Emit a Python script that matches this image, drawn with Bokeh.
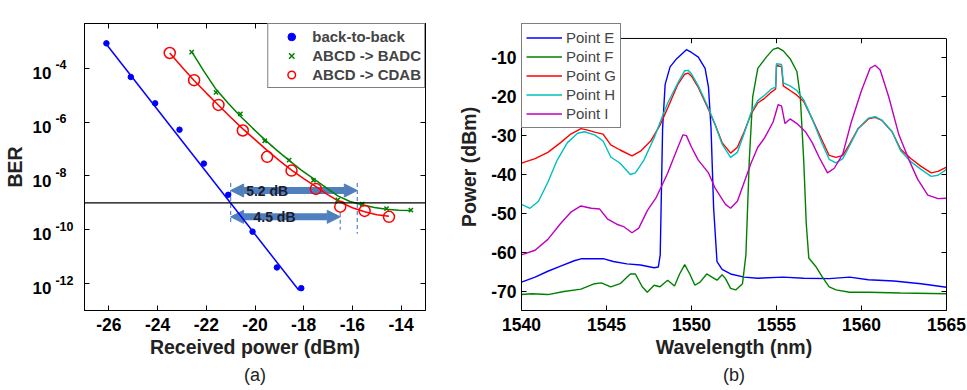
from bokeh.plotting import figure
from bokeh.models import (FixedTicker, LinearAxis, LogAxis, Span, CustomLabelingPolicy,
                          CustomJSTickFormatter, Range1d, LogScale, Title,
                          Arrow, NormalHead, Label, Legend, LegendItem)
from bokeh.layouts import row
from bokeh.embed import file_html
from bokeh.resources import INLINE

FONT = "Liberation Sans"

# ---------------- Panel (a): BER vs received power ----------------
b2b_power = [-26.1, -25.1, -24.1, -23.1, -22.1, -21.1, -20.1, -19.1, -18.1]
b2b_log_ber = [-3.07, -4.32, -5.30, -6.28, -7.54, -8.70, -10.07, -11.40, -12.17]

badc_power = [-22.6, -21.6, -20.6, -19.6, -18.6, -17.6, -16.6, -15.6, -14.6, -13.6]
badc_log_ber = [-3.40, -4.89, -5.69, -6.69, -7.41, -8.16, -8.89, -9.05, -9.21, -9.27]

cdab_power = [-23.5, -22.5, -21.5, -20.5, -19.5, -18.5, -17.5, -16.5, -15.5, -14.5]
cdab_log_ber = [-3.43, -4.44, -5.36, -6.31, -7.29, -7.80, -8.48, -9.14, -9.30, -9.52]

# fitted curves
b2b_fit_power = [-26.15, -18.2]
b2b_fit_log = [-3.05, -12.25]
badc_fit_power = [-22.6, -22.1, -21.6, -21.1, -20.6, -20.1, -19.6, -19.1, -18.6, -18.1,
                  -17.6, -17.1, -16.6, -16.1, -15.6, -15.1, -14.6, -14.1, -13.6]
badc_fit_log = [-3.38, -4.10, -4.78, -5.30, -5.78, -6.22, -6.65, -7.05, -7.42, -7.78,
                -8.10, -8.42, -8.74, -8.95, -9.07, -9.17, -9.24, -9.27, -9.28]
cdab_fit_power = [-23.5, -23.0, -22.5, -22.0, -21.5, -21.0, -20.5, -20.0, -19.5, -19.0,
                  -18.5, -18.0, -17.5, -17.0, -16.5, -16.0, -15.5, -15.0, -14.5]
cdab_fit_log = [-3.43, -3.95, -4.45, -4.92, -5.37, -5.82, -6.25, -6.65, -7.05, -7.43,
                -7.78, -8.10, -8.40, -8.70, -8.97, -9.18, -9.33, -9.44, -9.50]

ber_limit = 1e-9
x_ticks_a = [-26, -24, -22, -20, -18, -16, -14]
y_tick_exponents_a = [-12, -10, -8, -6, -4]

# ---------------- Panel (b): spectra ----------------
e_nm = [1540.0, 1540.8, 1541.55, 1542.3, 1543.1, 1543.5, 1544.85, 1545.4, 1546.2, 1547.0,
        1547.8, 1548.05, 1548.16, 1548.3, 1548.45, 1548.74, 1549.13, 1549.7, 1550.0, 1550.4,
        1550.8, 1551.0, 1551.15, 1551.3, 1551.5, 1551.8, 1552.3, 1553.1, 1553.9, 1555.4,
        1556.6, 1558.1, 1559.3, 1560.4, 1561.9, 1563.5, 1565.0]
e_db = [-67.7, -66.4, -64.9, -63.6, -62.2, -61.7, -61.7, -62.4, -63.0, -63.3,
        -64.0, -63.8, -60.7, -28.2, -16.8, -12.3, -10.2, -7.9, -8.6, -9.8,
        -12.7, -17.6, -28.2, -48.5, -62.4, -64.4, -65.6, -66.4, -66.7, -66.4,
        -66.7, -66.8, -66.4, -67.1, -67.4, -68.1, -69.0]

f_nm = [1540.0, 1540.6, 1541.55, 1542.5, 1543.5, 1544.3, 1544.7, 1545.25, 1545.8, 1546.4,
        1546.7, 1547.1, 1547.4, 1547.8, 1548.15, 1548.35, 1548.6, 1549.0, 1549.3, 1549.6,
        1549.9, 1550.2, 1550.5, 1550.9, 1551.2, 1551.5, 1551.8, 1552.0, 1552.3, 1552.6,
        1553.0, 1553.2, 1553.4, 1553.6, 1553.9, 1554.4, 1554.8, 1555.1, 1555.4, 1555.8,
        1556.2, 1556.4, 1556.6, 1556.75, 1556.9, 1557.3, 1557.7, 1558.1, 1558.5, 1559.3,
        1560.4, 1562.3, 1565.0]
f_db = [-70.9, -70.7, -70.9, -70.1, -69.5, -68.1, -67.9, -68.9, -68.1, -65.6,
        -65.6, -68.9, -70.3, -68.5, -68.9, -68.1, -67.2, -68.7, -65.6, -63.2,
        -65.6, -68.5, -67.7, -65.6, -66.4, -67.2, -65.8, -66.8, -69.3, -69.7,
        -68.1, -60.7, -36.3, -20.0, -12.7, -9.8, -7.8, -7.4, -8.2, -10.2,
        -13.5, -20.0, -36.3, -52.6, -61.5, -63.6, -66.4, -68.9, -69.7, -70.3,
        -70.3, -70.5, -70.7]

g_nm = [1540.0, 1540.8, 1541.55, 1542.3, 1542.9, 1543.5, 1543.9, 1544.3, 1544.8, 1545.25,
        1545.8, 1546.5, 1547.0, 1547.6, 1548.15, 1548.6, 1549.2, 1549.6, 1549.8, 1550.0,
        1550.4, 1551.0, 1551.4, 1551.8, 1552.3, 1552.7, 1553.1, 1553.5, 1553.9, 1554.3,
        1554.7, 1554.95, 1555.0, 1555.3, 1555.4, 1555.8, 1556.2, 1556.6, 1557.1, 1557.7,
        1558.1, 1558.5, 1558.9, 1559.3, 1559.8, 1560.4, 1560.8, 1561.2, 1561.8, 1562.3,
        1562.9, 1563.5, 1564.1, 1564.5, 1565.0]
g_db = [-37.1, -35.9, -34.3, -31.8, -29.6, -28.2, -28.6, -29.1, -29.6, -32.4,
        -33.7, -35.2, -34.0, -31.4, -27.3, -22.9, -16.8, -14.2, -13.9, -14.7,
        -17.6, -23.3, -27.3, -31.8, -34.5, -33.0, -29.0, -24.5, -21.6, -20.4,
        -18.8, -18.0, -11.9, -12.3, -17.2, -18.4, -19.6, -21.2, -25.7, -31.4,
        -35.1, -35.6, -35.1, -32.2, -28.2, -25.7, -25.3, -26.1, -29.0, -33.5,
        -35.9, -37.9, -39.6, -39.2, -38.1]

h_nm = [1540.0, 1540.5, 1541.0, 1541.55, 1542.1, 1542.7, 1543.3, 1543.7, 1544.3, 1544.8,
        1545.25, 1545.8, 1546.4, 1546.7, 1547.2, 1547.8, 1548.3, 1548.6, 1549.2, 1549.6,
        1549.8, 1550.0, 1550.4, 1551.0, 1551.4, 1551.8, 1552.3, 1552.7, 1553.1, 1553.5,
        1553.9, 1554.3, 1554.7, 1554.95, 1555.0, 1555.3, 1555.4, 1555.8, 1556.2, 1556.6,
        1557.1, 1557.7, 1558.1, 1558.5, 1558.9, 1559.3, 1559.8, 1560.4, 1560.8, 1561.2,
        1561.8, 1562.3, 1562.9, 1563.5, 1564.1, 1564.5, 1565.0]
h_db = [-47.7, -48.7, -46.9, -42.0, -36.3, -31.8, -29.4, -29.0, -29.8, -31.4,
        -35.5, -37.1, -40.0, -39.6, -36.3, -30.6, -24.9, -21.6, -16.4, -13.3,
        -13.2, -14.1, -17.2, -22.9, -27.3, -32.2, -35.6, -34.3, -29.4, -24.1,
        -21.0, -19.6, -18.0, -17.5, -11.5, -11.7, -16.4, -17.2, -18.4, -20.8,
        -25.7, -32.2, -36.1, -37.0, -35.9, -32.6, -28.2, -25.5, -25.1, -26.0,
        -29.0, -33.9, -36.7, -38.7, -40.5, -40.2, -38.7]

i_nm = [1540.0, 1540.8, 1541.55, 1542.3, 1542.9, 1543.5, 1544.1, 1544.6, 1545.05, 1545.6,
        1546.0, 1546.5, 1546.9, 1547.4, 1547.9, 1548.35, 1548.6, 1549.2, 1549.5, 1549.7,
        1550.0, 1550.4, 1551.0, 1551.4, 1552.0, 1552.3, 1552.7, 1553.1, 1553.5, 1553.9,
        1554.3, 1554.8, 1555.1, 1555.3, 1555.5, 1555.8, 1556.2, 1556.7, 1557.1, 1557.5,
        1558.0, 1558.4, 1558.9, 1559.4, 1560.0, 1560.5, 1560.8, 1561.1, 1561.6, 1562.2,
        1562.8, 1563.3, 1563.9, 1564.5, 1565.0]
i_db = [-60.7, -59.5, -56.7, -52.6, -49.7, -48.1, -48.7, -48.9, -51.4, -52.8,
        -53.4, -55.0, -53.8, -49.3, -46.1, -42.0, -39.6, -33.0, -29.8, -30.0,
        -33.0, -36.3, -39.6, -43.6, -47.7, -48.7, -46.9, -42.0, -37.1, -33.0,
        -30.6, -26.5, -22.0, -22.4, -26.9, -25.7, -26.9, -29.0, -31.8, -35.5,
        -39.6, -38.4, -34.7, -26.5, -18.4, -12.7, -11.9, -13.1, -20.0, -29.8,
        -36.3, -41.2, -45.3, -46.2, -46.1]

spectra_labels = ["Point E", "Point F", "Point G", "Point H", "Point I"]
x_ticks_b = [1540, 1545, 1550, 1555, 1560, 1565]
y_ticks_b = [-70, -60, -50, -40, -30, -20, -10]
y_lo_b, y_hi_b = -75, -5

BLUE, GREEN, RED, CYAN, MAGENTA = "#0000ff", "#008000", "#ff0000", "#00bfbf", "#bf00bf"
ARROW = "#4f7fbd"
PLAIN = CustomJSTickFormatter(code="return String(tick)")


def pw(vals):
    return [10 ** v for v in vals]


def hide_labels():
    return CustomLabelingPolicy(code="for (const i of indices) { indices.unset(i) }\nreturn indices")


def style_axis(ax, ticks, labels=True):
    ax.ticker = FixedTicker(ticks=ticks, minor_ticks=[])
    ax.major_tick_in = 5
    ax.major_tick_out = 0
    ax.minor_tick_line_color = None
    ax.axis_line_color = "black"
    ax.major_tick_line_color = "black"
    ax.major_label_text_font = FONT
    ax.major_label_text_font_style = "bold"
    ax.major_label_text_color = "black"
    ax.axis_label_text_font = FONT
    ax.axis_label_text_font_style = "bold"
    ax.axis_label_text_font_size = "19.5px"
    ax.axis_label_text_color = "#222222"
    ax.major_label_text_font_size = "17.5px"
    if labels:
        ax.formatter = PLAIN
    else:
        ax.major_label_text_font_size = "2px"
        ax.major_label_standoff = 0
        ax.major_label_policy = hide_labels()


# ---------- figure (a) ----------
LOG_LO, LOG_HI = -13.0, -2.333
p1 = figure(width=455, height=390, x_range=(-27, -13), y_range=Range1d(10 ** LOG_LO, 10 ** LOG_HI),
            y_axis_type="log", output_backend="svg", toolbar_location=None,
            min_border_left=76, min_border_right=30, min_border_top=23, min_border_bottom=79)
p1.grid.visible = False
p1.outline_line_color = "black"

style_axis(p1.xaxis[0], x_ticks_a)
p1.xaxis[0].axis_label = "Received power (dBm)"
p1.xaxis[0].major_label_standoff = 7
p1.xaxis[0].axis_label_standoff = 2
y_ticks_a = [10.0 ** e for e in y_tick_exponents_a]
style_axis(p1.yaxis[0], y_ticks_a, labels=False)
top_ax = LinearAxis()
style_axis(top_ax, x_ticks_a, labels=False)
p1.add_layout(top_ax, "above")
right_ax = LogAxis()
style_axis(right_ax, y_ticks_a, labels=False)
p1.add_layout(right_ax, "right")

# y tick labels "10" with a raised exponent: two label-only axes on shifted copies of the range
p1.extra_y_ranges = {"exp": Range1d(10 ** (LOG_LO - 0.111), 10 ** (LOG_HI - 0.111)),
                     "ten": Range1d(10 ** (LOG_LO + 0.174), 10 ** (LOG_HI + 0.174))}
p1.extra_y_scales = {"exp": LogScale(), "ten": LogScale()}
exp_ax = LogAxis(y_range_name="exp")
style_axis(exp_ax, y_ticks_a)
exp_ax.formatter = CustomJSTickFormatter(code="""
const s = String(Math.round(Math.log10(tick)));
return s.length < 3 ? s + "\\u2007" : s;
""")
exp_ax.major_label_text_font_size = "12.5px"
exp_ax.major_label_standoff = 3
exp_ax.axis_line_color = None
exp_ax.major_tick_line_color = None
p1.add_layout(exp_ax, "left")
ten_ax = LogAxis(y_range_name="ten")
style_axis(ten_ax, y_ticks_a)
ten_ax.formatter = CustomJSTickFormatter(code="return '10'")
ten_ax.major_label_text_font_size = "17px"
ten_ax.major_label_standoff = 1
ten_ax.axis_line_color = None
ten_ax.major_tick_line_color = None
ten_ax.axis_label = "BER"
ten_ax.axis_label_standoff = 4
p1.add_layout(ten_ax, "left")

# annotations under the data
for x0, x1, yy in [(-21.0, -15.8, -8.54), (-21.0, -16.5, -9.52)]:
    p1.add_layout(Arrow(x_start=x0, y_start=10 ** yy, x_end=x1, y_end=10 ** yy,
                        line_color=ARROW, line_width=7, level="underlay",
                        start=NormalHead(size=13, fill_color=ARROW, line_color=ARROW),
                        end=NormalHead(size=13, fill_color=ARROW, line_color=ARROW)))
for xx, y0, y1 in [(-21.0, -8.26, -9.73), (-16.5, -9.37, -10.0), (-15.8, -8.26, -10.15)]:
    p1.add_layout(Arrow(x_start=xx, y_start=10 ** y0, x_end=xx, y_end=10 ** y1, end=None,
                        line_color="#5b8fd0", line_width=1.3, line_dash="4 3", level="underlay"))
p1.add_layout(Span(location=ber_limit, dimension="width", line_color="black", line_width=1.2))
for txt, xx, yy in [("5.2 dB", -19.5, -8.54), ("4.5 dB", -19.2, -9.52)]:
    p1.add_layout(Label(x=xx, y=10 ** yy, text=txt, text_align="center", text_baseline="middle",
                        text_font=FONT, text_font_style="bold", text_font_size="14px",
                        text_color="#1c1c2c"))

p1.line(b2b_fit_power, pw(b2b_fit_log), line_color=BLUE, line_width=1.5)
p1.line(badc_fit_power, pw(badc_fit_log), line_color=GREEN, line_width=1.5)
p1.line(cdab_fit_power, pw(cdab_fit_log), line_color=RED, line_width=1.5)
r_b2b = p1.scatter(b2b_power, pw(b2b_log_ber), marker="circle", size=5.5,
                   fill_color=BLUE, line_color=BLUE)
r_badc = p1.scatter(badc_power, pw(badc_log_ber), marker="x", size=6,
                    line_color=GREEN, line_width=1.5)
r_cdab = p1.scatter(cdab_power, pw(cdab_log_ber), marker="circle", size=11,
                    fill_color=None, line_color=RED, line_width=1.5)

leg1 = Legend(items=[LegendItem(label="back-to-back", renderers=[r_b2b]),
                     LegendItem(label="ABCD -> BADC", renderers=[r_badc]),
                     LegendItem(label="ABCD -> CDAB", renderers=[r_cdab])],
              location="top_right", margin=0, padding=3, spacing=0,
              glyph_width=40, glyph_height=19, label_height=19, label_standoff=1,
              label_text_font=FONT, label_text_font_style="bold", label_text_font_size="15px",
              border_line_color="black", border_line_width=1, background_fill_alpha=1)
p1.add_layout(leg1)
p1.add_layout(Title(text="(a)", align="center", text_font=FONT, text_font_size="18px",
                    text_font_style="normal", text_color="#222222", standoff=4, offset=0), "below")

# ---------- figure (b) ----------
# frame reaches above the axes box so the legend can overhang it as in the reference
Y_TOP_FRAME = -1.15
p2 = figure(width=512, height=390, x_range=(1540, 1565), y_range=(y_lo_b, Y_TOP_FRAME),
            output_backend="svg", toolbar_location=None,
            min_border_left=62, min_border_right=21, min_border_top=10, min_border_bottom=80)
p2.grid.visible = False
p2.outline_line_color = None
style_axis(p2.xaxis[0], x_ticks_b)
p2.xaxis[0].axis_label = "Wavelength (nm)"
p2.xaxis[0].major_label_standoff = 7
p2.xaxis[0].axis_label_standoff = 2
style_axis(p2.yaxis[0], y_ticks_b)
p2.yaxis[0].bounds = (y_lo_b, y_hi_b)
p2.yaxis[0].axis_label = "Power (dBm)"
p2.yaxis[0].major_label_standoff = 5
p2.yaxis[0].axis_label_standoff = 8
right_b = LinearAxis()
style_axis(right_b, y_ticks_b, labels=False)
right_b.bounds = (y_lo_b, y_hi_b)
p2.add_layout(right_b, "right")
p2.add_layout(Span(location=y_hi_b, dimension="width", line_color="black", line_width=1))
tick_len = 5 * (Y_TOP_FRAME - y_lo_b) / 300.0
inner = x_ticks_b[1:-1]
p2.segment(x0=inner, x1=inner, y0=[y_hi_b] * len(inner), y1=[y_hi_b - tick_len] * len(inner),
           line_color="black", line_width=1)

rs = []
for xs, ys, col in [(e_nm, e_db, BLUE), (f_nm, f_db, GREEN), (g_nm, g_db, RED),
                    (h_nm, h_db, CYAN), (i_nm, i_db, MAGENTA)]:
    assert len(xs) == len(ys)
    rs.append(p2.line(xs, ys, line_color=col, line_width=1.4))

leg2 = Legend(items=[LegendItem(label=lab, renderers=[r]) for lab, r in zip(spectra_labels, rs)],
              location="top_left", margin=0, padding=4, spacing=0,
              glyph_width=36, glyph_height=19, label_height=19, label_standoff=4,
              label_text_font=FONT, label_text_font_size="15px",
              border_line_color="black", border_line_width=1.5, background_fill_alpha=1)
p2.add_layout(leg2)
p2.add_layout(Title(text="(b)", align="center", text_font=FONT, text_font_size="18px",
                    text_font_style="normal", text_color="#222222", standoff=4, offset=0), "below")

layout = row(p1, p2)
open("out.html", "w").write(file_html(layout, INLINE))
